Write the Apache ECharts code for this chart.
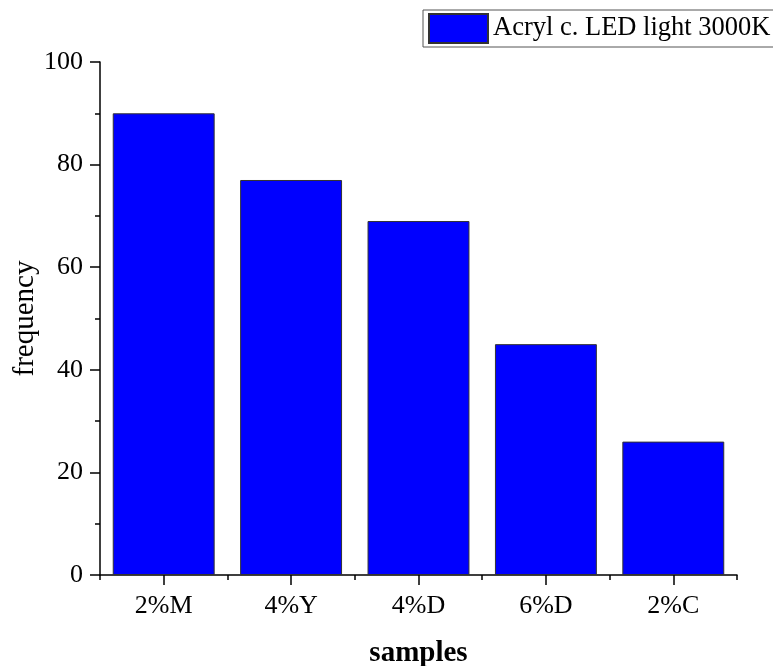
<!DOCTYPE html>
<html>
<head>
<meta charset="utf-8">
<script src="https://cdn.jsdelivr.net/npm/echarts@6/dist/echarts.min.js"></script>
<style>html,body{margin:0;padding:0;background:#fff}#c{width:773px;height:666px}</style>
</head>
<body>
<div id="c"></div>
<script>
const categories = ['2%M', '4%Y', '4%D', '6%D', '2%C'];
const frequency = [90, 77, 69, 45, 26];
const seriesName = 'Acryl c. LED light 3000K';
const yTicks = [0, 20, 40, 60, 80, 100];

const font = '"Liberation Serif", "Times New Roman", serif';
const chart = echarts.init(document.getElementById('c'), null, {renderer: 'canvas'});
chart.setOption({
  animation: false,
  backgroundColor: '#fff',
  grid: {left: 100, right: 36, top: 62, bottom: 91, containLabel: false, outerBoundsMode: 'none'},
  legend: {
    show: true,
    left: 423, top: 10,
    padding: [3, 40, 3, 5],
    borderColor: '#555', borderWidth: 1,
    itemWidth: 59, itemHeight: 29, itemGap: 5,
    icon: 'rect',
    textStyle: {fontFamily: font, fontSize: 26.5, color: '#000', padding: [0, 0, 0, 0]},
    data: [seriesName]
  },
  xAxis: [{
    type: 'category', data: categories, boundaryGap: true,
    axisLine: {show: true, lineStyle: {color: '#000', width: 1.5}},
    axisTick: {show: true, alignWithLabel: true, length: 10, lineStyle: {color: '#000', width: 1.5}},
    axisLabel: {fontFamily: font, fontSize: 26, color: '#000', margin: 18},
    splitLine: {show: false},
    name: 'samples', nameLocation: 'middle', nameGap: 64, nameMoveOverlap: false,
    nameTextStyle: {fontFamily: font, fontSize: 29, fontWeight: 'bold', color: '#000'}
  }, {
    type: 'category', data: categories, boundaryGap: true, position: 'bottom',
    axisLine: {show: false},
    axisTick: {show: true, alignWithLabel: false, length: 5, lineStyle: {color: '#000', width: 1.5}},
    axisLabel: {show: false},
    splitLine: {show: false}
  }],
  yAxis: {
    type: 'value', min: 0, max: 100, interval: 20,
    axisLine: {show: true, lineStyle: {color: '#000', width: 1.5}},
    axisTick: {show: true, length: 10, lineStyle: {color: '#000', width: 1.5}},
    minorTick: {show: true, splitNumber: 2, length: 5, lineStyle: {color: '#000', width: 1.5}},
    axisLabel: {fontFamily: font, fontSize: 26, color: '#000', margin: 17,
      formatter: v => yTicks.includes(v) ? String(v) : ''},
    splitLine: {show: false},
    name: 'frequency', nameLocation: 'middle', nameGap: 60, nameMoveOverlap: false,
    nameTextStyle: {fontFamily: font, fontSize: 29, color: '#000'}
  },
  series: [{
    name: seriesName, type: 'bar', data: frequency, xAxisIndex: 0,
    barWidth: '80%',
    itemStyle: {color: '#0000ff', borderColor: '#333', borderWidth: 1}
  }]
});
</script>
</body>
</html>
